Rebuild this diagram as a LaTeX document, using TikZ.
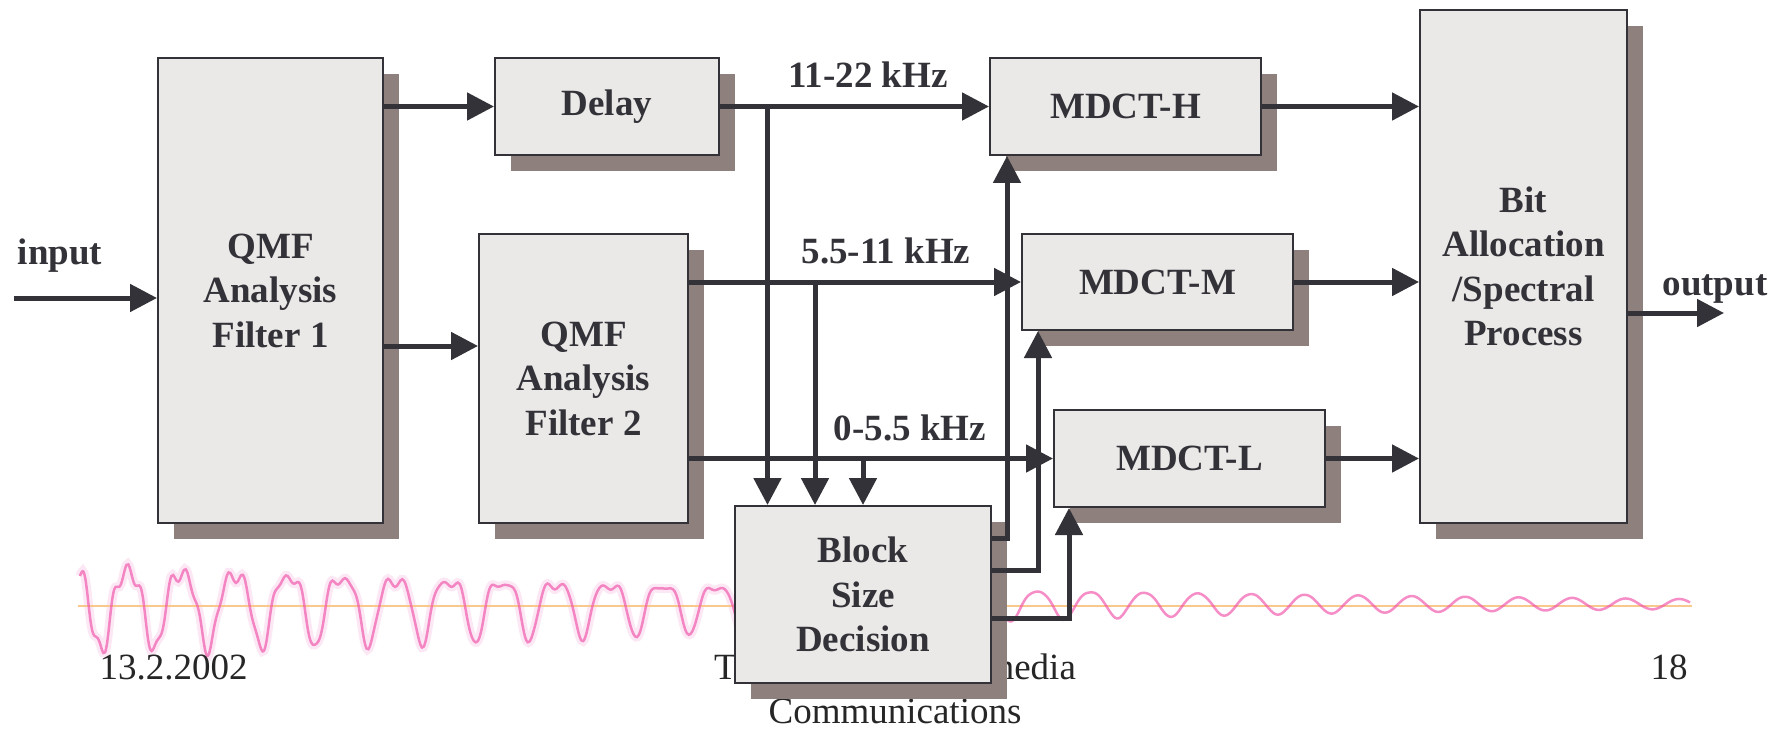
\documentclass[tikz,border=0pt]{standalone}
\usepackage{fontspec}
\setmainfont{Liberation Serif}
\usetikzlibrary{arrows.meta,shadows,calc}
\definecolor{boxfill}{RGB}{235,233,231}
\definecolor{shadowc}{RGB}{142,128,125}
\definecolor{linec}{RGB}{50,50,56}
\definecolor{wavec}{RGB}{240,80,170}
\definecolor{basec}{RGB}{248,200,140}
\begin{document}
\begin{tikzpicture}[x=1pt,y=-1pt,
 declare function={
   wt(\t)=(\t-80)/1000;
   wa(\t)=41*exp(-0.75*wt(\t)-0.35*wt(\t)^2);
   wr(\t)=0.4*exp(-((\t-550)/500)^2);
   wn(\t)=10*exp(-(\t-80)/250);
   wth(\t)=mod((\t-422)/53.5,1)*360;
   wph(\t)=mod((\t-422)/53.5*3.7,1)*360;
   wy(\t)=604 + wa(\t)*(cos(wth(\t)) + wr(\t)*cos(2*wth(\t))) + wn(\t)*sin(wph(\t)+40);
 },
 box/.style={draw=linec, line width=2pt, fill=boxfill, inner sep=0pt, align=center, text=linec,
   font=\fontsize{37}{44.5}\selectfont\bfseries,
   drop shadow={shadow xshift=16pt, shadow yshift=-16pt, fill=shadowc, opacity=1}},
 arr/.style={draw=linec, line width=5pt, -{Triangle[length=27pt,width=27pt]}},
 lbl/.style={font=\fontsize{37}{44.5}\selectfont\bfseries, text=linec, inner sep=0pt, anchor=base},
 foot/.style={font=\fontsize{37}{44}\selectfont, text=black!85, inner sep=0pt, anchor=base, align=center}]
\useasboundingbox[fill=white] (0,0) rectangle (1785,730);

% waveform in background
\coordinate (wl) at (78,606);
\coordinate (wr) at (1692,606);
\draw[wavec!25, line width=9pt, opacity=.5] plot[domain=80:760, samples=500, smooth] (\x, {wy(\x)});
\draw[basec, line width=1.5pt] (wl) -- (wr);
\draw[wavec, line width=2.5pt, opacity=.65] plot[domain=80:1690, samples=900, smooth] (\x, {wy(\x)});

% footer
\node[foot] (date) at (173.5,679) {13.2.2002};
\node[foot] (course1) at (895,679) {Tik-111.590 Multimedia};
\node[foot] (course2) at (895,723) {Communications};
\node[foot] (page) at (1669,679) {18};

% boxes
\node[box, minimum width=225pt, minimum height=465pt] (qmf1) at (270.5,290.5) {QMF\\Analysis\\Filter 1};
\node[box, minimum width=224pt, minimum height=97pt] (delay) at (607,106.5) {Delay};
\node[box, minimum width=209pt, minimum height=289pt] (qmf2) at (583.5,378.5) {QMF\\Analysis\\Filter 2};
\node[box, minimum width=256pt, minimum height=177pt] (block) at (863,594.5) {Block\\Size\\Decision};
\node[box, minimum width=271pt, minimum height=97pt] (mdcth) at (1125.5,106.5) {MDCT-H};
\node[box, minimum width=271pt, minimum height=96pt] (mdctm) at (1157.5,282) {MDCT-M};
\node[box, minimum width=271pt, minimum height=97pt] (mdctl) at (1189.5,458.5) {MDCT-L};
\node[box, minimum width=207pt, minimum height=513pt] (bit) at (1523.5,266.5) {Bit\\Allocation\\/Spectral\\Process};

% labels
\node[lbl] (inlbl) at (60,264.5) {input};
\node[lbl] (outlbl) at (1715,295) {output};
\node[lbl] (fh) at (868,88) {11-22 kHz};
\node[lbl] (fm) at (886,263) {5.5-11 kHz};
\node[lbl] (fl) at (910,440) {0-5.5 kHz};

% helper coordinates
\coordinate (in) at (14,298);
\coordinate (out) at (1724,313);
\coordinate (q2in) at (0,346);
\coordinate (b1) at (767.5,106.5);
\coordinate (b2) at (815,282);
\coordinate (b3) at (863,458.5);
\coordinate (ch) at (1007,538);
\coordinate (cm) at (1038,570);
\coordinate (cl) at (1069,618);

% connectors
\draw[arr] (in) -- (qmf1.west |- in);
\draw[arr] (qmf1.east |- delay.west) -- (delay.west);
\draw[arr] (qmf1.east |- q2in) -- (qmf2.west |- q2in);
\draw[arr] (delay.east) -- (mdcth.west);
\draw[arr] (qmf2.east |- mdctm.west) -- (mdctm.west);
\draw[arr] (qmf2.east |- mdctl.west) -- (mdctl.west);
\draw[arr] (b1) -- (block.north -| b1);
\draw[arr] (b2) -- (block.north -| b2);
\draw[arr] (b3) -- (block.north -| b3);
\draw[arr] (block.east |- ch) -| (mdcth.south -| ch);
\draw[arr] (block.east |- cm) -| (mdctm.south -| cm);
\draw[arr] (block.east |- cl) -| (mdctl.south -| cl);
\draw[arr] (mdcth.east) -- (bit.west |- mdcth.east);
\draw[arr] (mdctm.east) -- (bit.west |- mdctm.east);
\draw[arr] (mdctl.east) -- (bit.west |- mdctl.east);
\draw[arr] (bit.east |- out) -- (out);
\end{tikzpicture}
\end{document}
